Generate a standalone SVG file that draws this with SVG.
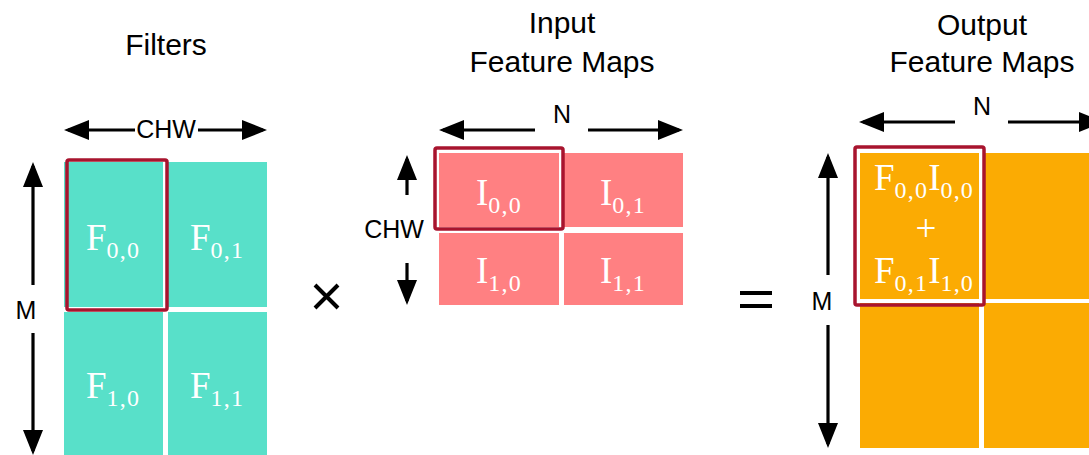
<svg xmlns="http://www.w3.org/2000/svg" width="1089" height="455" viewBox="0 0 1089 455">
<style>
.title{font-family:"Liberation Sans",Arial,sans-serif;font-size:30px;fill:#000;text-anchor:middle}
.dim{font-family:"Liberation Sans",Arial,sans-serif;font-size:25px;fill:#000;text-anchor:middle}
.lbl{font-family:"Liberation Serif","DejaVu Serif",serif;font-size:37px;fill:#fff;text-anchor:middle}
.sub{font-size:24px;letter-spacing:1.2px}
.teal{fill:#58E0C9}
.pink{fill:#FF8082}
.orange{fill:#FBAB03}
.sel{fill:none;stroke:#A8142E;stroke-width:3.5}
.arr{stroke:#000;stroke-width:3.2;fill:none;marker-end:url(#ah)}
</style>
<defs>
<marker id="ah" markerUnits="userSpaceOnUse" markerWidth="25" markerHeight="20" refX="21" refY="10" orient="auto" viewBox="0 0 25 20">
<path d="M0,0 L25,10 L0,20 z" fill="#000"/>
</marker>
</defs>
<rect width="1089" height="455" fill="#fff"/>

<g id="filters">
<text class="title" x="166" y="55">Filters</text>
<rect class="teal" x="64" y="162" width="99" height="145"/>
<rect class="teal" x="168" y="162" width="99" height="145"/>
<rect class="teal" x="64" y="312" width="99" height="150"/>
<rect class="teal" x="168" y="312" width="99" height="150"/>
<rect class="sel" x="67" y="160" width="100" height="150" rx="2"/>
<text class="lbl" x="113" y="250">F<tspan class="sub" dy="8">0,0</tspan></text>
<text class="lbl" x="217" y="250">F<tspan class="sub" dy="8">0,1</tspan></text>
<text class="lbl" x="113" y="398">F<tspan class="sub" dy="8">1,0</tspan></text>
<text class="lbl" x="217" y="398">F<tspan class="sub" dy="8">1,1</tspan></text>
<text class="dim" x="166" y="138">CHW</text>
<text class="dim" x="26" y="319">M</text>
</g>

<g id="input">
<text class="title" x="562" y="33">Input</text>
<text class="title" x="562" y="72">Feature Maps</text>
<rect class="pink" x="439" y="153" width="120" height="74"/>
<rect class="pink" x="564" y="153" width="119" height="74"/>
<rect class="pink" x="439" y="233" width="120" height="72"/>
<rect class="pink" x="564" y="233" width="119" height="72"/>
<rect class="sel" x="435" y="148" width="128" height="81" rx="2"/>
<text class="lbl" x="499" y="205">I<tspan class="sub" dy="8">0,0</tspan></text>
<text class="lbl" x="623" y="205">I<tspan class="sub" dy="8">0,1</tspan></text>
<text class="lbl" x="499" y="283">I<tspan class="sub" dy="8">1,0</tspan></text>
<text class="lbl" x="623" y="283">I<tspan class="sub" dy="8">1,1</tspan></text>
<text class="dim" x="562" y="123">N</text>
<text class="dim" x="394" y="238">CHW</text>
</g>

<g id="times">
<path d="M315,285 L338,308 M338,285 L315,308" stroke="#000" stroke-width="4"/>
</g>

<g id="equals">
<path d="M740,293 H772 M740,306 H772" stroke="#000" stroke-width="4"/>
</g>

<g id="output">
<text class="title" x="982" y="35">Output</text>
<text class="title" x="982" y="72">Feature Maps</text>
<rect class="orange" x="860" y="153" width="119" height="146"/>
<rect class="orange" x="984" y="153" width="110" height="146"/>
<rect class="orange" x="860" y="303" width="119" height="145"/>
<rect class="orange" x="984" y="303" width="110" height="145"/>
<rect class="sel" x="855" y="147" width="129" height="158" rx="2"/>
<text class="lbl" x="924" y="190">F<tspan class="sub" dy="8">0,0</tspan><tspan dy="-8">I</tspan><tspan class="sub" dy="8">0,0</tspan></text>
<text class="lbl" x="926" y="241">+</text>
<text class="lbl" x="924" y="283">F<tspan class="sub" dy="8">0,1</tspan><tspan dy="-8">I</tspan><tspan class="sub" dy="8">1,0</tspan></text>
<text class="dim" x="982" y="115">N</text>
<text class="dim" x="822" y="310">M</text>
</g>

<g id="connectors">
<line class="arr" x1="135" y1="130" x2="68" y2="130"/>
<line class="arr" x1="198" y1="130" x2="263" y2="130"/>
<line class="arr" x1="33" y1="285" x2="33" y2="166"/>
<line class="arr" x1="33" y1="333" x2="33" y2="451"/>
<line class="arr" x1="535" y1="130" x2="443" y2="130"/>
<line class="arr" x1="588" y1="130" x2="679" y2="130"/>
<line class="arr" x1="407" y1="195" x2="407" y2="159"/>
<line class="arr" x1="407" y1="263" x2="407" y2="301"/>
<line class="arr" x1="955" y1="122" x2="863" y2="122"/>
<line class="arr" x1="1008" y1="122" x2="1100" y2="122"/>
<line class="arr" x1="828" y1="275" x2="828" y2="157"/>
<line class="arr" x1="828" y1="325" x2="828" y2="444"/>
</g>
</svg>
